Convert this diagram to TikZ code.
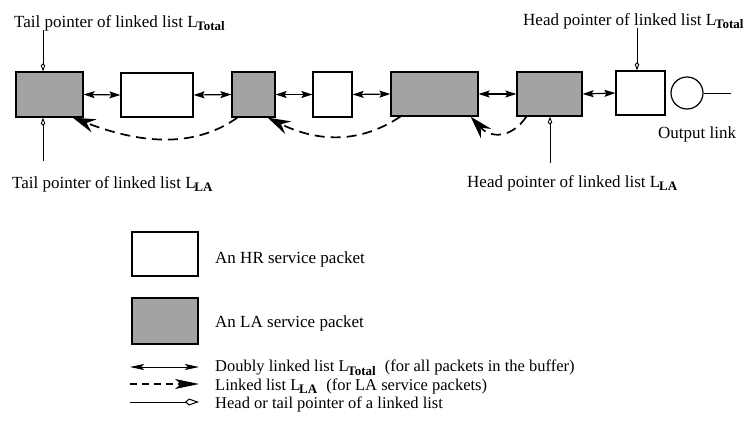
\documentclass[tikz,border=0pt]{standalone}
\usepackage{fontspec}
\setmainfont{Liberation Serif}
\usetikzlibrary{arrows.meta}
\newcommand\lsub[1]{\kern-1.2pt\raisebox{-3.5pt}{\fontsize{13}{13}\selectfont\bfseries #1}}
\tikzset{
  hr/.style={draw, line width=1.2pt, fill=white, inner sep=0pt},
  la/.style={draw, line width=1.2pt, fill=black!36, inner sep=0pt},
  dlink/.style={line width=1.2pt, {Stealth[length=11pt,width=7pt,inset=2pt]}-{Stealth[length=11pt,width=7pt,inset=2pt]}},
  lalink/.style={line width=1.7pt, dash pattern=on 10pt off 6pt, -{Stealth[length=23pt,width=14pt,inset=8pt]}},
  ptr/.style={line width=0.9pt, -{Kite[open,length=8pt,width=4.5pt,inset=2pt]}},
  lbl/.style={anchor=base west, inner sep=0pt, font=\fontsize{17}{20}\selectfont},
  keylbl/.style={anchor=base west, inner sep=0pt, font=\fontsize{16.5}{19}\selectfont},
}
\begin{document}
\begin{tikzpicture}[x=1pt,y=-1pt]
\useasboundingbox (0,0) rectangle (744,442);

% packets in the buffer
\node[la, minimum width=67pt, minimum height=45pt] (b1) at (49.5,94.5) {};
\node[hr, minimum width=72pt, minimum height=44pt] (b2) at (157,95) {};
\node[la, minimum width=43pt, minimum height=45pt] (b3) at (253.5,94.5) {};
\node[hr, minimum width=39pt, minimum height=45pt] (b4) at (332.5,94.5) {};
\node[la, minimum width=87pt, minimum height=44pt] (b5) at (434.5,94) {};
\node[la, minimum width=65pt, minimum height=44pt] (b6) at (549.5,94) {};
\node[hr, minimum width=49pt, minimum height=44pt] (b7) at (640.5,93) {};
\node[draw, line width=1.2pt, circle, minimum size=32pt, inner sep=0pt] (srv) at (687,93) {};
\coordinate (outend) at (731,93);
\draw[line width=1pt] (srv.east) -- (outend);

% doubly linked list L_Total
\draw[dlink] (b1.east) -- (b2.west);
\draw[dlink] (b2.east) -- (b3.west);
\draw[dlink] (b3.east) -- (b4.west);
\draw[dlink] (b4.east) -- (b5.west);
\draw[dlink] (b5.east) -- (b6.west);
\draw[dlink] (b6.east) -- (b7.west);

% linked list L_LA
\draw[lalink] ([xshift=6pt]b3.south west) .. controls +(-45,32) and +(65,25) .. ([xshift=-11pt]b1.south east);
\draw[lalink] ([xshift=10pt]b5.south west) .. controls +(-45,30) and +(45,22) .. ([xshift=-8pt]b3.south east);
\draw[lalink] ([xshift=10pt]b6.south west) .. controls +(-15,22) and +(20,22) .. ([xshift=-8pt]b5.south east);

% pointers
\node[lbl] (tt) at (14,27) {Tail pointer of linked list L\lsub{Total}};
\coordinate (tts) at (43,30);
\draw[ptr] (tts) -- (tts |- b1.north);
\node[lbl] (tl) at (12,188) {Tail pointer of linked list L\lsub{LA}};
\coordinate (tls) at (43,161);
\draw[ptr] (tls) -- (tls |- b1.south);
\node[lbl] (ht) at (523,25) {Head pointer of linked list L\lsub{Total}};
\coordinate (hts) at (637,28);
\draw[ptr] (hts) -- (hts |- b7.north);
\node[lbl] (hl) at (467,187) {Head pointer of linked list L\lsub{LA}};
\coordinate (hls) at (550,163);
\draw[ptr] (hls) -- (hls |- b6.south);
\node[lbl] (ol) at (658,138) {Output link};

% legend
\node[hr, minimum width=66pt, minimum height=44pt] (khr) at (165,254) {};
\node[lbl] at (215,263) {An HR service packet};
\node[la, minimum width=66pt, minimum height=46pt] (kla) at (165,321) {};
\node[lbl] at (215,327) {An LA service packet};
\coordinate (k1a) at (130,367); \coordinate (k1b) at (199,367);
\draw[line width=1pt, {Stealth[length=14pt,width=6pt,inset=3pt]}-{Stealth[length=14pt,width=6pt,inset=3pt]}] (k1a) -- (k1b);
\node[keylbl] at (215,371.5) {Doubly linked list L\lsub{Total}\hspace{9pt}(for all packets in the buffer)};
\coordinate (k2a) at (130,384); \coordinate (k2b) at (199,384);
\draw[line width=1.1pt, dash pattern=on 7pt off 5pt, -{Stealth[length=24pt,width=10pt,inset=6pt]}] (k2a) -- (k2b);
\node[keylbl] at (215,390) {Linked list L\lsub{LA}\hspace{9pt}(for LA service packets)};
\coordinate (k3a) at (130,402); \coordinate (k3b) at (199,402);
\draw[line width=1pt, -{Kite[open,length=14pt,width=7pt,inset=4pt]}] (k3a) -- (k3b);
\node[keylbl] at (215,408.5) {Head or tail pointer of a linked list};
\end{tikzpicture}
\end{document}
